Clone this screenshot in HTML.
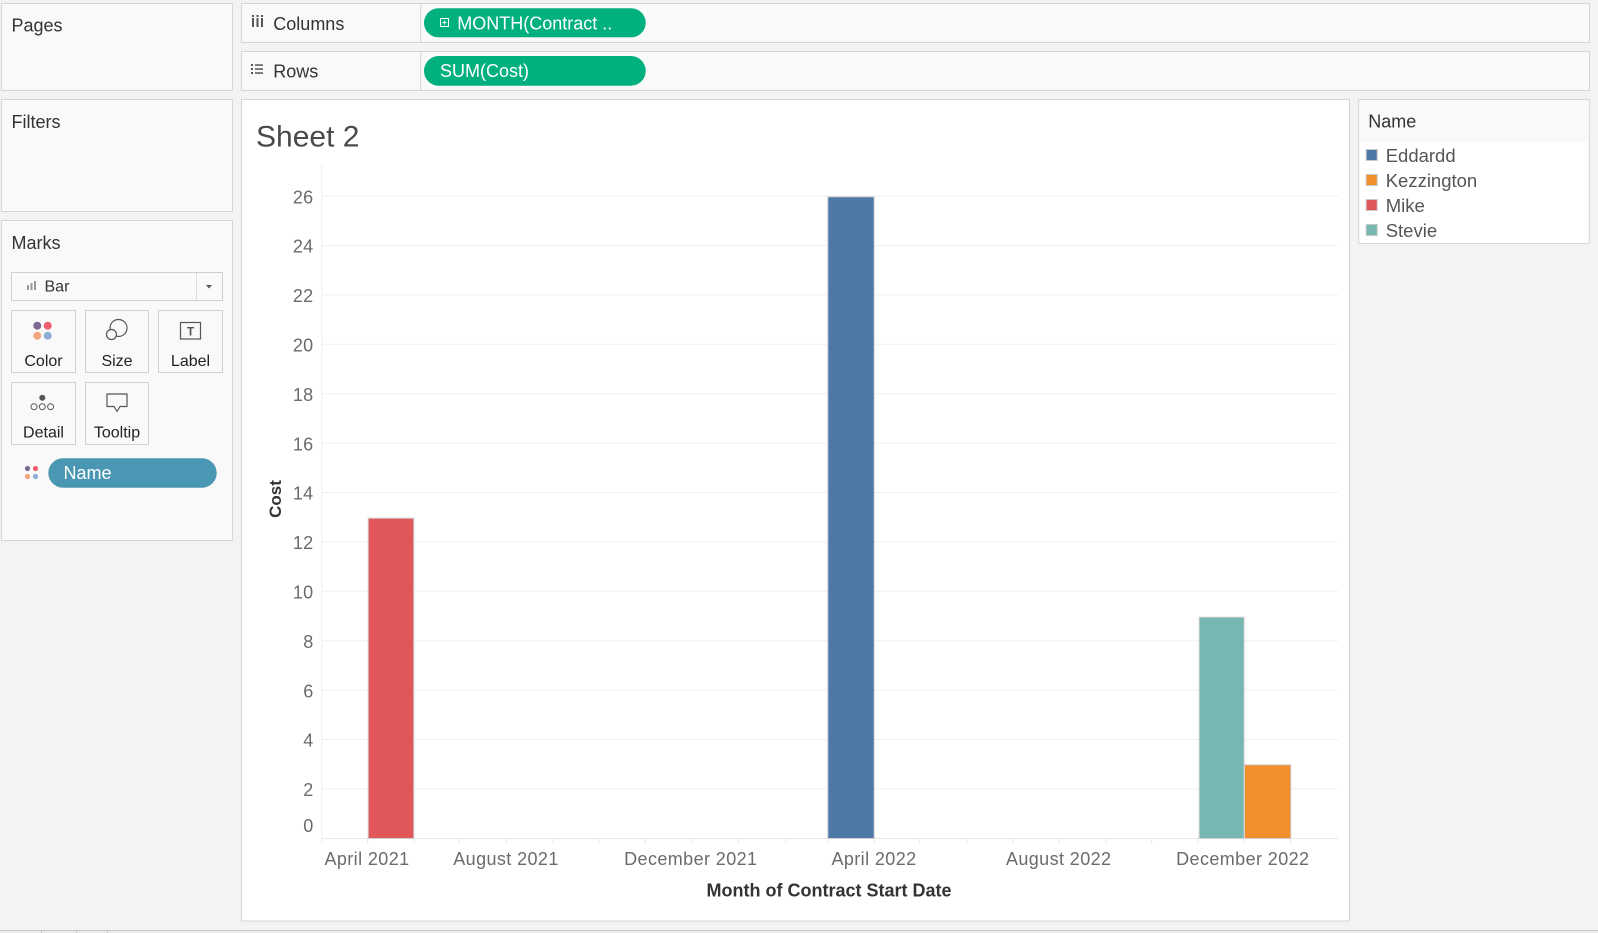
<!DOCTYPE html>
<html>
<head>
<meta charset="utf-8">
<style>
  html,body{margin:0;padding:0;background:#f3f3f3;}
  body{width:1598px;height:933px;overflow:hidden;position:relative;font-family:"Liberation Sans",sans-serif;}
  svg{position:absolute;left:0;top:0;}
  text{font-family:"Liberation Sans",sans-serif;}
</style>
</head>
<body>
<svg width="1598" height="933" viewBox="0 0 1598 933" xmlns="http://www.w3.org/2000/svg">
  <rect x="0" y="0" width="1598" height="933" fill="#f3f3f3"/>

  <!-- Left panels -->
  <rect x="1.5" y="3.5" width="231" height="87" fill="#f9f9f9" stroke="#d5d5d5" stroke-width="1"/>
  <text x="11.5" y="31.5" font-size="18" fill="#333">Pages</text>

  <rect x="1.5" y="99.5" width="231" height="112" fill="#f9f9f9" stroke="#d5d5d5" stroke-width="1"/>
  <text x="11.5" y="128" font-size="18" fill="#333">Filters</text>

  <rect x="1.5" y="220.5" width="231" height="320" fill="#f9f9f9" stroke="#d5d5d5" stroke-width="1"/>
  <text x="11.5" y="249" font-size="18" fill="#333">Marks</text>

  <!-- Bar dropdown -->
  <rect x="11.5" y="272.5" width="211" height="28" fill="#fafafa" stroke="#cfcfcf" stroke-width="1"/>
  <line x1="196.5" y1="273" x2="196.5" y2="300" stroke="#dcdcdc"/>
  <rect x="27" y="285" width="2" height="5" fill="#9a9a9a"/>
  <rect x="30.5" y="283" width="2" height="7" fill="#9a9a9a"/>
  <rect x="34" y="281" width="2" height="9" fill="#9a9a9a"/>
  <text x="44.5" y="291.5" font-size="16" fill="#333">Bar</text>
  <path d="M206 285 L212 285 L209 288.5 Z" fill="#555"/>

  <!-- Mark buttons -->
  <rect x="11.5" y="310.5" width="64" height="62" fill="#f9f9f9" stroke="#d0d0d0"/>
  <rect x="85.5" y="310.5" width="63" height="62" fill="#f9f9f9" stroke="#d0d0d0"/>
  <rect x="158.5" y="310.5" width="64" height="62" fill="#f9f9f9" stroke="#d0d0d0"/>
  <rect x="11.5" y="382.5" width="64" height="62" fill="#f9f9f9" stroke="#d0d0d0"/>
  <rect x="85.5" y="382.5" width="63" height="62" fill="#f9f9f9" stroke="#d0d0d0"/>

  <circle cx="37.3" cy="325.7" r="4" fill="#7d6a92"/>
  <circle cx="47.7" cy="325.7" r="4" fill="#f0606c"/>
  <circle cx="37.3" cy="335.7" r="4" fill="#f4a57f"/>
  <circle cx="47.7" cy="335.7" r="4" fill="#8eaed3"/>
  <text x="43.5" y="366" font-size="16" fill="#222" text-anchor="middle">Color</text>

  <circle cx="118.5" cy="328" r="8.5" fill="none" stroke="#555" stroke-width="1.2"/>
  <circle cx="111.5" cy="334.5" r="5" fill="#f9f9f9" stroke="#555" stroke-width="1.2"/>
  <text x="117" y="366" font-size="16" fill="#222" text-anchor="middle">Size</text>

  <rect x="180.5" y="322.5" width="20" height="16.5" fill="none" stroke="#555" stroke-width="1.2"/>
  <text x="190.5" y="335.5" font-size="12" fill="#555" text-anchor="middle" font-family="Liberation Serif, serif" font-weight="bold">T</text>
  <text x="190.5" y="366" font-size="16" fill="#222" text-anchor="middle">Label</text>

  <circle cx="42.3" cy="397.7" r="3" fill="#555"/>
  <circle cx="34" cy="406.7" r="3" fill="none" stroke="#555" stroke-width="1"/>
  <circle cx="42.3" cy="406.7" r="3" fill="none" stroke="#555" stroke-width="1"/>
  <circle cx="50.6" cy="406.7" r="3" fill="none" stroke="#555" stroke-width="1"/>
  <text x="43.5" y="437.5" font-size="16" fill="#222" text-anchor="middle">Detail</text>

  <path d="M107 394 L127 394 L127 406.5 L120 406.5 L117 411.5 L114 406.5 L107 406.5 Z" fill="none" stroke="#555" stroke-width="1.2" stroke-linejoin="round"/>
  <text x="117" y="437.5" font-size="16" fill="#222" text-anchor="middle">Tooltip</text>

  <!-- Name pill -->
  <circle cx="27.5" cy="468.5" r="2.6" fill="#7d6a92"/>
  <circle cx="35.5" cy="468.5" r="2.6" fill="#f0606c"/>
  <circle cx="27.5" cy="476.5" r="2.6" fill="#f4a57f"/>
  <circle cx="35.5" cy="476.5" r="2.6" fill="#8eaed3"/>
  <rect x="48.3" y="458.3" width="168.4" height="29.4" rx="14.7" ry="14.7" fill="#4a97b3"/>
  <text x="63.5" y="479" font-size="18" fill="#ffffff">Name</text>

  <!-- Columns shelf -->
  <rect x="241.5" y="3.5" width="1348" height="39" fill="#f9f9f9" stroke="#d5d5d5"/>
  <line x1="420.7" y1="4" x2="420.7" y2="42" stroke="#d5d5d5"/>
  <g fill="#555">
    <rect x="252" y="18" width="2" height="9"/>
    <rect x="256.5" y="18" width="2" height="9"/>
    <rect x="261" y="18" width="2" height="9"/>
    <rect x="252" y="15" width="2" height="2"/>
    <rect x="256.5" y="15" width="2" height="2"/>
    <rect x="261" y="15" width="2" height="2"/>
  </g>
  <text x="273.3" y="30" font-size="18" fill="#333">Columns</text>
  <rect x="424" y="8.3" width="221.7" height="29" rx="14.5" ry="14.5" fill="#00b07f"/>
  <rect x="440.5" y="18.5" width="8" height="8" fill="none" stroke="#ffffff" stroke-width="1"/>
  <line x1="442.5" y1="22.5" x2="446.5" y2="22.5" stroke="#fff" stroke-width="1"/>
  <line x1="444.5" y1="20.5" x2="444.5" y2="24.5" stroke="#fff" stroke-width="1"/>
  <text x="457.3" y="29.3" font-size="18" fill="#ffffff">MONTH(Contract ..</text>

  <!-- Rows shelf -->
  <rect x="241.5" y="51.5" width="1348" height="39" fill="#f9f9f9" stroke="#d5d5d5"/>
  <line x1="420.7" y1="52" x2="420.7" y2="90" stroke="#d5d5d5"/>
  <g fill="#555">
    <rect x="251" y="64" width="2" height="2"/>
    <rect x="251" y="68" width="2" height="2"/>
    <rect x="251" y="72" width="2" height="2"/>
    <rect x="255" y="64.3" width="8" height="1.5"/>
    <rect x="255" y="68.3" width="8" height="1.5"/>
    <rect x="255" y="72.3" width="8" height="1.5"/>
  </g>
  <text x="273.3" y="77.5" font-size="18" fill="#333">Rows</text>
  <rect x="424" y="56" width="221.7" height="29.7" rx="14.8" ry="14.8" fill="#00b07f"/>
  <text x="440" y="77.2" font-size="18" fill="#ffffff">SUM(Cost)</text>

  <!-- Sheet container -->
  <rect x="241.5" y="99.5" width="1108" height="821.5" fill="#ffffff" stroke="#d5d5d5"/>
  <text x="256" y="146.5" font-size="30" fill="#4a4a4a">Sheet 2</text>

  <!-- Gridlines -->
  <g stroke="#efefef" stroke-width="1">
    <line x1="322" y1="196.1" x2="1338" y2="196.1"/>
    <line x1="322" y1="245.5" x2="1338" y2="245.5"/>
    <line x1="322" y1="294.9" x2="1338" y2="294.9"/>
    <line x1="322" y1="344.3" x2="1338" y2="344.3"/>
    <line x1="322" y1="393.7" x2="1338" y2="393.7"/>
    <line x1="322" y1="443.1" x2="1338" y2="443.1"/>
    <line x1="322" y1="492.5" x2="1338" y2="492.5"/>
    <line x1="322" y1="541.9" x2="1338" y2="541.9"/>
    <line x1="322" y1="591.3" x2="1338" y2="591.3"/>
    <line x1="322" y1="640.7" x2="1338" y2="640.7"/>
    <line x1="322" y1="690.1" x2="1338" y2="690.1"/>
    <line x1="322" y1="739.5" x2="1338" y2="739.5"/>
    <line x1="322" y1="788.9" x2="1338" y2="788.9"/>
  </g>
  <line x1="322" y1="838.5" x2="1338" y2="838.5" stroke="#e9e9e9"/>
  <line x1="321.7" y1="164" x2="321.7" y2="843" stroke="#efefef"/>

  <!-- X ticks -->
  <g stroke="#e6e6e6" stroke-width="1">
    <line x1="367.7" y1="839" x2="367.7" y2="843"/>
    <line x1="414.3" y1="839" x2="414.3" y2="843"/>
    <line x1="459.3" y1="839" x2="459.3" y2="843"/>
    <line x1="506.3" y1="839" x2="506.3" y2="843"/>
    <line x1="553.3" y1="839" x2="553.3" y2="843"/>
    <line x1="598.7" y1="839" x2="598.7" y2="843"/>
    <line x1="645.3" y1="839" x2="645.3" y2="843"/>
    <line x1="691.7" y1="839" x2="691.7" y2="843"/>
    <line x1="738.3" y1="839" x2="738.3" y2="843"/>
    <line x1="785.7" y1="839" x2="785.7" y2="843"/>
    <line x1="828" y1="839" x2="828" y2="843"/>
    <line x1="874.3" y1="839" x2="874.3" y2="843"/>
    <line x1="919.3" y1="839" x2="919.3" y2="843"/>
    <line x1="966.7" y1="839" x2="966.7" y2="843"/>
    <line x1="1012.7" y1="839" x2="1012.7" y2="843"/>
    <line x1="1059.3" y1="839" x2="1059.3" y2="843"/>
    <line x1="1106" y1="839" x2="1106" y2="843"/>
    <line x1="1151.7" y1="839" x2="1151.7" y2="843"/>
    <line x1="1198" y1="839" x2="1198" y2="843"/>
    <line x1="1243.7" y1="839" x2="1243.7" y2="843"/>
    <line x1="1290.5" y1="839" x2="1290.5" y2="843"/>
  </g>

  <!-- Y tick labels -->
  <g font-size="18" fill="#6b6b6b" text-anchor="end" letter-spacing="0.3">
    <text x="313.5" y="203.3">26</text>
    <text x="313.5" y="252.7">24</text>
    <text x="313.5" y="302.1">22</text>
    <text x="313.5" y="351.5">20</text>
    <text x="313.5" y="400.9">18</text>
    <text x="313.5" y="450.3">16</text>
    <text x="313.5" y="499.7">14</text>
    <text x="313.5" y="549.1">12</text>
    <text x="313.5" y="598.5">10</text>
    <text x="313.5" y="647.9">8</text>
    <text x="313.5" y="697.3">6</text>
    <text x="313.5" y="746.7">4</text>
    <text x="313.5" y="796.1">2</text>
    <text x="313.5" y="832">0</text>
  </g>

  <text transform="translate(281,499) rotate(-90)" font-size="17" font-weight="bold" fill="#333" text-anchor="middle">Cost</text>

  <!-- Bars -->
  <rect x="368.2" y="518.2" width="45.6" height="320.3" fill="#e15759" stroke="#d0d0d0" stroke-width="1"/>
  <rect x="827.8" y="196.8" width="46.4" height="641.7" fill="#4e79a7" stroke="#d0d0d0" stroke-width="1"/>
  <rect x="1199.2" y="617.2" width="44.9" height="221.3" fill="#76b7b2" stroke="#d0d0d0" stroke-width="1"/>
  <rect x="1244.5" y="764.8" width="46.3" height="73.7" fill="#f28e2b" stroke="#d0d0d0" stroke-width="1"/>

  <!-- X tick labels -->
  <g font-size="18" fill="#6b6b6b" text-anchor="middle" letter-spacing="0.4">
    <text x="367" y="865">April 2021</text>
    <text x="506" y="865">August 2021</text>
    <text x="690.8" y="865">December 2021</text>
    <text x="874" y="865">April 2022</text>
    <text x="1058.7" y="865">August 2022</text>
    <text x="1242.8" y="865">December 2022</text>
  </g>

  <text x="829" y="896.7" font-size="18" font-weight="bold" fill="#333" text-anchor="middle">Month of Contract Start Date</text>

  <!-- Legend -->
  <rect x="1358.7" y="99.5" width="230.6" height="144" fill="#ffffff" stroke="#d5d5d5"/>
  <rect x="1359.2" y="100" width="229.6" height="41.7" fill="#f9f9f9"/>
  <text x="1368.3" y="127.5" font-size="18" fill="#333">Name</text>
  <rect x="1366.2" y="149.5" width="11" height="11" fill="#4e79a7" stroke="#c8c8c8"/>
  <text x="1385.7" y="162" font-size="18.5" fill="#555">Eddardd</text>
  <rect x="1366.2" y="174.5" width="11" height="11" fill="#f28e2b" stroke="#c8c8c8"/>
  <text x="1385.7" y="187" font-size="18.5" fill="#555">Kezzington</text>
  <rect x="1366.2" y="199.5" width="11" height="11" fill="#e15759" stroke="#c8c8c8"/>
  <text x="1385.7" y="212" font-size="18.5" fill="#555">Mike</text>
  <rect x="1366.2" y="224.5" width="11" height="11" fill="#76b7b2" stroke="#c8c8c8"/>
  <text x="1385.7" y="237" font-size="18.5" fill="#555">Stevie</text>

  <!-- Bottom status bar -->
  <rect x="0" y="930" width="1598" height="3" fill="#ececec"/>
  <line x1="0" y1="930.5" x2="1598" y2="930.5" stroke="#c9c9c9"/>
  <line x1="41.5" y1="931" x2="41.5" y2="933" stroke="#c9c9c9"/>
  <line x1="76.5" y1="931" x2="76.5" y2="933" stroke="#c9c9c9"/>
  <line x1="107.5" y1="931" x2="107.5" y2="933" stroke="#c9c9c9"/>
</svg>
</body>
</html>
